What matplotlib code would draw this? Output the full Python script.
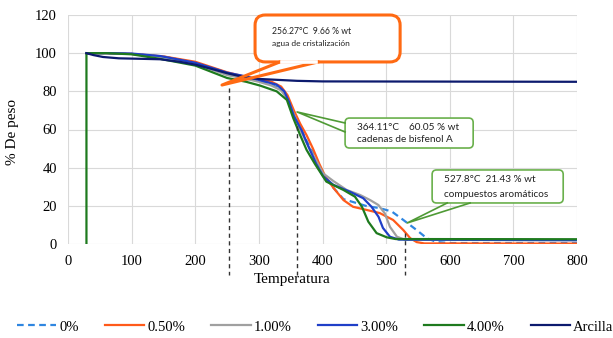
import matplotlib
matplotlib.use("Agg")
import matplotlib.pyplot as plt
from matplotlib.patches import FancyBboxPatch

# ---- datos ----
x_0 = [29, 60, 100, 150, 200, 250, 280, 300, 320, 335, 345, 355, 365, 375, 388, 401, 417,
       433, 448, 470, 490, 509, 527, 548, 564, 580, 600, 800]
y_0 = [100, 100, 99.6, 98.2, 95, 89, 87, 85.5, 83.5, 81, 76.5, 69, 61, 54, 46, 36.5, 29.5,
       23.5, 22, 19.8, 18.8, 17, 12.6, 7.3, 3, 1, 0.5, 0.5]

x_050 = [29, 60, 100, 150, 200, 250, 280, 300, 320, 335, 345, 355, 365, 375, 385, 395, 405,
         417, 433, 448, 470, 490, 511, 527, 538, 548, 560, 800]
y_050 = [100, 100, 99.6, 98.3, 95.5, 90, 87.5, 86.5, 85, 82.5, 78, 70, 63, 57, 50, 42, 35,
         29.5, 23, 19.5, 17.8, 16.2, 12.6, 7.3, 3, 1, 0.3, 0.2]

x_100 = [29, 60, 100, 150, 200, 250, 280, 300, 320, 335, 345, 355, 365, 375, 388, 401, 417,
         438, 459, 475, 488, 498, 506, 517, 530, 800]
y_100 = [100, 100, 99.6, 98, 94.5, 88.5, 86.5, 85, 83, 80.5, 76, 68, 60, 53, 45, 37, 33,
         28.3, 25.7, 23, 20.4, 16, 9, 3.8, 2.2, 2]

x_300 = [29, 60, 100, 145, 200, 250, 280, 300, 328, 340, 348, 355, 367, 378, 390, 401, 417,
         443, 464, 477, 488, 495, 506, 520, 800]
y_300 = [100, 100, 99.8, 98.5, 95, 89.8, 87.8, 86, 83.5, 80, 74, 67, 59.7, 51, 42, 35.5, 31,
         27.4, 24, 19.5, 14.3, 8.4, 3.8, 2.3, 2]

x_400 = [29, 29, 60, 100, 145, 200, 250, 280, 302, 328, 344, 354, 365, 375, 388, 406,
         433, 451, 462, 472, 485, 501, 515, 800]
y_400 = [0, 100, 100, 99.4, 97, 93.5, 87, 85, 83, 80, 75.5, 66, 57, 49.3, 42, 32.7,
         28.3, 24.8, 19.5, 11.7, 5.7, 3.5, 2.6, 2.5]

x_arc = [29, 40, 55, 80, 120, 145, 175, 200, 225, 250, 280, 300, 330, 360, 400, 800]
y_arc = [100, 99, 98, 97.3, 97, 96.8, 95.5, 94, 91.8, 89.5, 87.2, 86.5, 86, 85.5, 85.2, 85]

series = [
    ("0%", x_0, y_0, "#2f86e0", (0, (3, 2))),
    ("0.50%", x_050, y_050, "#ff5a1a", "-"),
    ("1.00%", x_100, y_100, "#a0a0a0", "-"),
    ("3.00%", x_300, y_300, "#1f3fc8", "-"),
    ("4.00%", x_400, y_400, "#1e7a1e", "-"),
    ("Arcilla", x_arc, y_arc, "#0c1a6e", "-"),
]

x_ticks = [0, 100, 200, 300, 400, 500, 600, 700, 800]
y_ticks = [0, 20, 40, 60, 80, 100, 120]

# lineas punteadas de las etapas (x, y superior)
etapa_x = [253, 360, 530]
etapa_top = [82, 62, 6]

serif = "Liberation Serif"
sans = "Lato"

fig = plt.figure(figsize=(6.13, 3.38), dpi=100)
ax = fig.add_axes([68 / 613, 1 - 244 / 338, 509 / 613, 229 / 338])

for lab, xs, ys, col, ls in series:
    ax.plot(xs, ys, color=col, lw=1.6, linestyle=ls, label=lab)

for xe, yt in zip(etapa_x, etapa_top):
    ax.plot([xe, xe], [yt, -16], color="#333333", lw=1.0,
            linestyle=(0, (3, 2.5)), clip_on=False, zorder=5)

ax.set_xlim(0, 800)
ax.set_ylim(0, 120)
ax.set_xticks(x_ticks)
ax.set_yticks(y_ticks)
ax.grid(True, color="#d9d9d9", lw=0.8)
ax.set_axisbelow(True)
for s in ax.spines.values():
    s.set_visible(False)
ax.tick_params(length=0, pad=8, labelsize=10.5)
for t in ax.get_xticklabels() + ax.get_yticklabels():
    t.set_fontfamily(serif)

ax.set_xlabel("Temperatura", fontfamily=serif, fontsize=11)
ax.xaxis.set_label_coords(0.44, -0.125)
ax.set_ylabel("% De peso", fontfamily=serif, fontsize=11)
ax.yaxis.set_label_coords(-0.097, 0.49)

# callout naranja
asp = (1 / 1.908) / (1 / 0.636)
box = FancyBboxPatch((294, 95.4), 228, 24.6,
                     boxstyle="round,pad=0,rounding_size=16",
                     mutation_aspect=asp, fc="white", ec="#ff6a13", lw=2.2,
                     clip_on=False, zorder=6)
ax.add_patch(box)
ax.plot([333, 242, 393], [95.4, 83.3, 95.4], color="#ff6a13", lw=2.2,
        clip_on=False, zorder=6)
ax.plot([336, 390], [95.4, 95.4], color="white", lw=2.6, zorder=7, clip_on=False)
ax.text(321, 111.6, "256.27°C  9.66 % wt", fontsize=6.2, fontfamily=sans,
        va="center", ha="left", zorder=8, color="#222222")
ax.text(321, 105.3, "agua de cristalización", fontsize=6.0, fontfamily=sans,
        va="center", ha="left", zorder=8, color="#222222")

# callouts verdes
for (bx, by, bw, bh), wedge, lines in [
        ((435.5, 50.3, 201.3, 15.7), ([435.5, 360, 435.5], [63.4, 69.2, 58.7]),
         ["364.11°C    60.05 % wt", "cadenas de bisfenol A"]),
        ((572.3, 21.5, 206, 17.3), ([596, 533, 632], [21.5, 11, 21.5]),
         ["527.8°C  21.43 % wt", "compuestos aromáticos"]),
]:
    ax.add_patch(FancyBboxPatch((bx, by), bw, bh,
                                boxstyle="round,pad=0,rounding_size=7",
                                mutation_aspect=asp, fc="white", ec="#6ab04c",
                                lw=1.2, zorder=6))
    ax.plot(wedge[0], wedge[1], color="#4f9a35", lw=1.2, zorder=6)
    ax.text(bx + 19, by + bh * 0.7, lines[0], fontsize=7.2, fontfamily=sans,
            va="center", ha="left", zorder=8, color="#222222")
    ax.text(bx + 19, by + bh * 0.27, lines[1], fontsize=7.2, fontfamily=sans,
            va="center", ha="left", zorder=8, color="#222222")

leg = fig.legend(loc="center", bbox_to_anchor=(0.514, 1 - 327 / 338), ncol=6,
                 frameon=False, handlelength=2.7, handletextpad=0.2,
                 columnspacing=1.8, prop={"family": serif, "size": 10.5})

fig.savefig("out.png", dpi=100)
